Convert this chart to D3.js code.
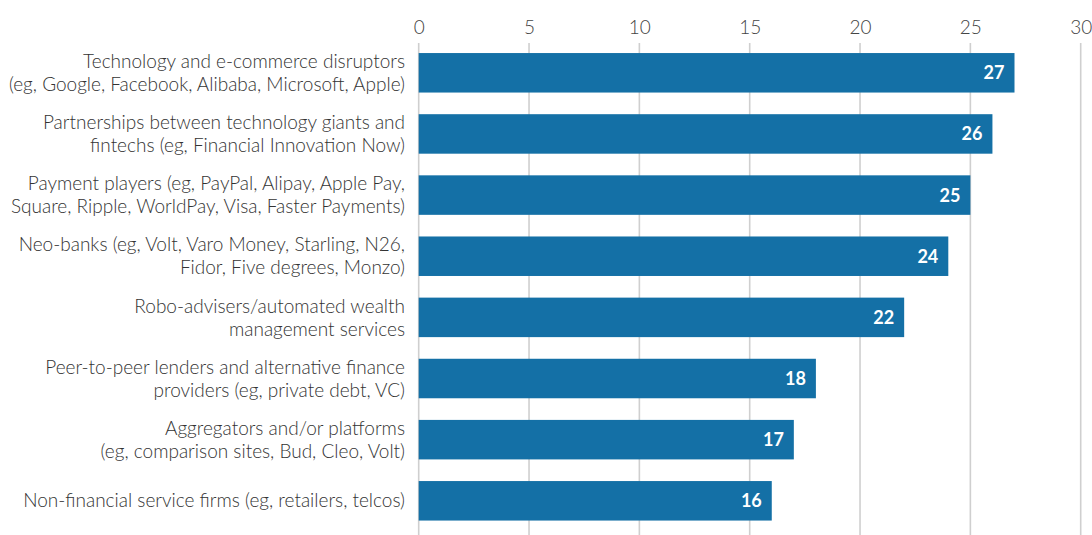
<!DOCTYPE html>
<html>
<head>
<meta charset="utf-8">
<script src="https://cdn.jsdelivr.net/npm/d3@7"></script>
<style>
  html, body { margin: 0; padding: 0; background: #fff; }
  svg { display: block; }
  text { font-family: Lato, "Open Sans", sans-serif; }
</style>
</head>
<body>
<svg id="chart" width="1092" height="535"></svg>
<script>
// Category labels, each split into its display lines
const categories = [
  ["Technology and e-commerce disruptors", "(eg, Google, Facebook, Alibaba, Microsoft, Apple)"],
  ["Partnerships between technology giants and", "fintechs (eg, Financial Innovation Now)"],
  ["Payment players (eg, PayPal, Alipay, Apple Pay,", "Square, Ripple, WorldPay, Visa, Faster Payments)"],
  ["Neo-banks (eg, Volt, Varo Money, Starling, N26,", "Fidor, Five degrees, Monzo)"],
  ["Robo-advisers/automated wealth", "management services"],
  ["Peer-to-peer lenders and alternative finance", "providers (eg, private debt, VC)"],
  ["Aggregators and/or platforms", "(eg, comparison sites, Bud, Cleo, Volt)"],
  ["Non-financial service firms (eg, retailers, telcos)"]
];
const values = [27, 26, 25, 24, 22, 18, 17, 16];
const tickValues = [0, 5, 10, 15, 20, 25, 30];

const svg = d3.select("#chart");
const width = 1092, height = 535;
const gridTop = 43;

const x = d3.scaleLinear().domain([0, 30]).range([418.7, 1080.7]);
const y = d3.scaleBand()
  .domain(d3.range(categories.length))
  .range([31.4, 542.2])
  .paddingInner(0.354)
  .paddingOuter(0.354);

// Vertical gridlines
svg.append("g")
  .selectAll("line")
  .data(tickValues)
  .join("line")
  .attr("x1", d => x(d)).attr("x2", d => x(d))
  .attr("y1", gridTop).attr("y2", height)
  .attr("stroke", "#cfcfcf")
  .attr("stroke-width", 1.6);

// Top axis labels
const axis = d3.axisTop(x).tickValues(tickValues).tickSize(0).tickPadding(0);
const gAxis = svg.append("g").attr("transform", "translate(0,34)").call(axis);
gAxis.select(".domain").remove();
gAxis.selectAll("text")
  .attr("font-family", "Lato, 'Open Sans', sans-serif")
  .attr("font-size", 19)
  .attr("font-weight", 300)
  .attr("fill", "#444");

// Bars
svg.append("g")
  .selectAll("rect")
  .data(values)
  .join("rect")
  .attr("x", x(0))
  .attr("y", (d, i) => y(i))
  .attr("width", d => x(d) - x(0))
  .attr("height", y.bandwidth())
  .attr("fill", "#1470a6");

// Value labels inside bar ends
svg.append("g")
  .selectAll("text")
  .data(values)
  .join("text")
  .attr("x", d => x(d) - 10)
  .attr("y", (d, i) => y(i) + y.bandwidth() / 2)
  .attr("dy", "0.36em")
  .attr("text-anchor", "end")
  .attr("font-size", 18)
  .attr("font-weight", 700)
  .attr("fill", "#fff")
  .text(d => d);

// Category labels
const lineH = 23;
const labels = svg.append("g")
  .selectAll("text")
  .data(categories)
  .join("text")
  .attr("text-anchor", "end")
  .attr("font-size", 19)
  .attr("font-weight", 300)
  .attr("fill", "#333")
  .attr("transform", (d, i) => `translate(405,${y(i) + y.bandwidth() / 2})`);

labels.selectAll("tspan")
  .data(d => d.map((line, k) => ({ line, k, n: d.length })))
  .join("tspan")
  .attr("x", 0)
  .attr("y", t => (t.k - (t.n - 1) / 2) * lineH)
  .attr("dy", "0.35em")
  .text(t => t.line);
</script>
</body>
</html>
